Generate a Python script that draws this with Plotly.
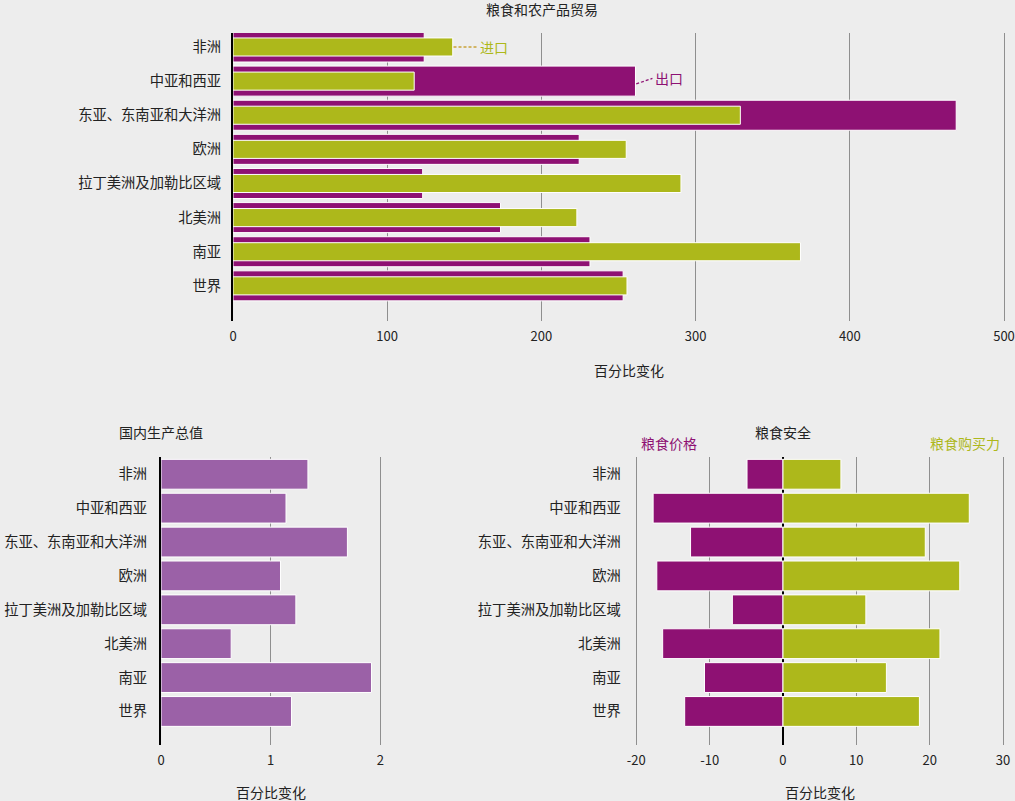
import plotly.graph_objects as go

regions = ["非洲", "中亚和西亚", "东亚、东南亚和大洋洲", "欧洲", "拉丁美洲及加勒比区域", "北美洲", "南亚", "世界"]
exports = [124, 261, 469, 224.5, 123, 173.5, 231.5, 253]
imports = [142.5, 117.5, 329, 255, 290.5, 223, 368, 255.5]
gdp = [1.34, 1.14, 1.70, 1.09, 1.23, 0.64, 1.92, 1.19]
food_price = [-4.9, -17.7, -12.6, -17.2, -6.9, -16.4, -10.7, -13.4]
affordability = [7.9, 25.4, 19.4, 24.1, 11.3, 21.4, 14.1, 18.6]
trade_ticks = [0, 100, 200, 300, 400, 500]
gdp_ticks = [0, 1, 2]
security_ticks = [-20, -10, 0, 10, 20, 30]

PURPLE = "#8e1173"
GREEN = "#adb81b"
GDPC = "#9b61a7"
BG = "#ededed"
GRID = "#8f8f8f"
FONT = "Noto Sans CJK SC"
TXT = "#222222"
W, H = 1015, 801

def px(x):
    return x / W

def py(y):
    return 1 - y / H

fig = go.Figure()
idx = list(range(len(regions)))

fig.add_trace(go.Bar(y=idx, x=exports, orientation="h", width=0.88,
                     marker=dict(color=PURPLE, line=dict(color="white", width=1)),
                     xaxis="x", yaxis="y", name="出口"))
fig.add_trace(go.Bar(y=idx, x=imports, orientation="h", width=0.53,
                     marker=dict(color=GREEN, line=dict(color="white", width=1)),
                     xaxis="x", yaxis="y", name="进口"))
fig.add_trace(go.Bar(y=idx, x=gdp, orientation="h", width=0.88,
                     marker=dict(color=GDPC, line=dict(color="white", width=1)),
                     xaxis="x2", yaxis="y2", name="国内生产总值"))
fig.add_trace(go.Bar(y=idx, x=food_price, orientation="h", width=0.88,
                     marker=dict(color=PURPLE, line=dict(color="white", width=1)),
                     xaxis="x3", yaxis="y3", name="粮食价格"))
fig.add_trace(go.Bar(y=idx, x=affordability, orientation="h", width=0.88,
                     marker=dict(color=GREEN, line=dict(color="white", width=1)),
                     xaxis="x3", yaxis="y3", name="粮食购买力"))

tickfont = dict(family=FONT, size=13, color=TXT)
catfont = dict(family=FONT, size=14.3, color=TXT)

def xax(domain, rng, ticks, anchor, zeroline=False):
    return dict(domain=domain, range=rng, anchor=anchor,
                tickmode="array", tickvals=ticks, ticktext=[str(t) for t in ticks],
                showgrid=True, gridcolor=GRID, gridwidth=1,
                zeroline=zeroline, zerolinecolor="black", zerolinewidth=2,
                showline=False, ticks="", tickfont=tickfont, automargin=False,
                ticklabelstandoff=6, fixedrange=True)

def yax(domain, rng, anchor, showline, standoff):
    return dict(domain=domain, range=rng, anchor=anchor,
                tickmode="array", tickvals=idx, ticktext=regions,
                showgrid=False, zeroline=False, showline=showline,
                linecolor="black", linewidth=2, ticks="", automargin=False,
                tickfont=catfont, ticklabelstandoff=standoff, fixedrange=True)

fig.update_layout(
    template="none",
    width=W, height=H,
    margin=dict(l=0, r=0, t=0, b=0, pad=0),
    paper_bgcolor=BG, plot_bgcolor=BG,
    barmode="overlay", showlegend=False,
    font=dict(family=FONT, color=TXT),
    xaxis=xax([px(233), px(1007.1)], [0, 502], trade_ticks, "y"),
    yaxis=yax([py(321), py(33)], [8.03, -0.41], "x", True, 7),
    xaxis2=xax([px(161), px(381.4)], [0, 2.01], gdp_ticks, "y2"),
    yaxis2=yax([py(745), py(457)], [7.99, -0.51], "x2", True, 9),
    xaxis3=xax([px(634.8), px(1004.5)], [-20.2, 30.2], security_ticks, "y3", zeroline=True),
    yaxis3=yax([py(745), py(457)], [7.99, -0.51], "x3", False, 13),
)

def ann(text, x, y, color=TXT, size=14, xanchor="center"):
    fig.add_annotation(text=text, x=px(x), y=py(y), xref="paper", yref="paper",
                       showarrow=False, xanchor=xanchor, yanchor="middle",
                       font=dict(family=FONT, size=size, color=color))

ann("粮食和农产品贸易", 542, 9)
ann("百分比变化", 629, 370)
ann("国内生产总值", 161, 432)
ann("百分比变化", 271, 792)
ann("粮食安全", 783, 432)
ann("粮食价格", 669, 443, color=PURPLE)
ann("粮食购买力", 965, 443, color=GREEN)
ann("百分比变化", 820, 792)

# leader lines for series labels
fig.add_shape(type="line", xref="x", yref="y",
              x0=imports[0] + 0.5, y0=0, x1=imports[0] + 16, y1=0,
              line=dict(color="#c9a33a", width=1.3, dash="3px,2px"))
fig.add_annotation(text="进口", x=imports[0] + 16.5, y=0, xref="x", yref="y",
                   showarrow=False, xanchor="left", yanchor="middle",
                   font=dict(family=FONT, size=14, color=GREEN))
fig.add_shape(type="line", xref="x", yref="y",
              x0=exports[1] + 0.5, y0=1.08, x1=exports[1] + 11, y1=0.92,
              line=dict(color=PURPLE, width=1.3, dash="3px,2px"))
fig.add_annotation(text="出口", x=exports[1] + 11.5, y=0.92, xref="x", yref="y",
                   showarrow=False, xanchor="left", yanchor="middle",
                   font=dict(family=FONT, size=14, color=PURPLE))

fig.write_html("out.html")
